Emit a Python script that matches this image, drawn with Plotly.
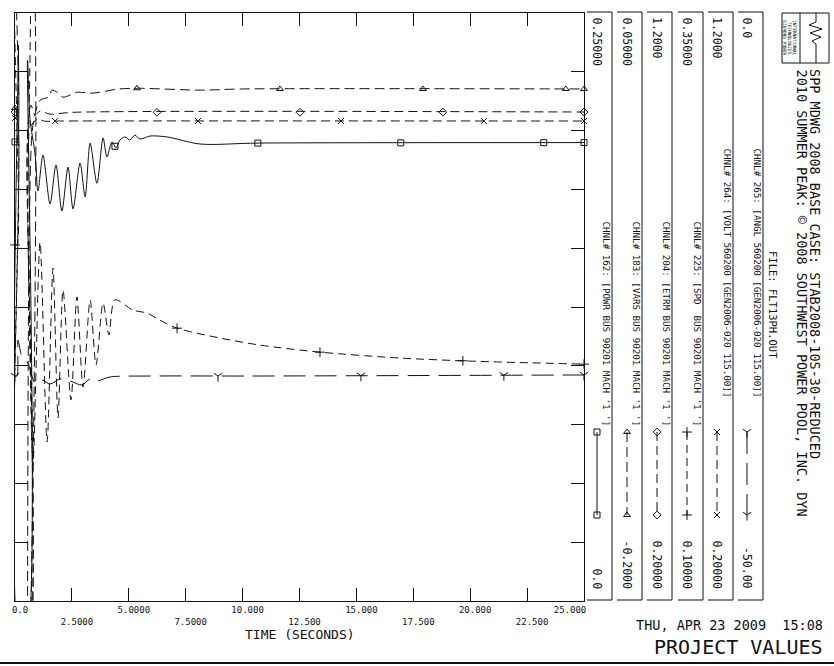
import numpy as np
import plotly.graph_objects as go

# ---------------- channel descriptions ----------------
chan_labels = [
    "CHNL# 162: [POWR BUS 90201 MACH '1 ']",
    "CHNL# 183: [VARS BUS 90201 MACH '1 ']",
    "CHNL# 204: [ETRM BUS 90201 MACH '1 ']",
    "CHNL# 225: [SPD  BUS 90201 MACH '1 ']",
    "CHNL# 264: [VOLT 560200 [GEN2006-020 115.00]]",
    "CHNL# 265: [ANGL 560200 [GEN2006-020 115.00]]",
]
scale_max_text = ["0.25000", "0.05000", "1.2000", "0.35000", "1.2000", "0.0"]
scale_min_text = ["0.0", "-0.2000", "0.20000", "0.10000", "0.20000", "-50.00"]
scale_max = [0.25, 0.05, 1.2, 0.35, 1.2, 0.0]
scale_min = [0.0, -0.2, 0.2, 0.1, 0.2, -50.0]

# ---------------- channel values (time s, value) ----------------
t_powr = [0.0, 0.09, 0.15, 0.22, 0.48, 0.55, 0.66, 0.88, 1.01, 1.23, 1.54, 1.80, 2.06, 2.33,
          2.55, 2.86, 3.08, 3.30, 3.60, 3.87, 4.04, 4.26, 4.44, 4.61, 4.83, 5.05, 5.27, 5.49,
          5.93, 6.68, 8.13, 10.72, 25.0]
v_powr = [0.1952, 0.1952, 0.2364, -0.0200, -0.0200, 0.2300, 0.2050, 0.1900, 0.1743, 0.1896,
          0.1688, 0.1854, 0.1658, 0.1845, 0.1667, 0.1862, 0.1718, 0.1947, 0.1776, 0.1969,
          0.1888, 0.1952, 0.1926, 0.1960, 0.1973, 0.1960, 0.1981, 0.1964, 0.1977, 0.1973,
          0.1943, 0.1947, 0.1949]

t_vars = [0.0, 0.09, 0.12, 0.48, 0.53, 0.62, 0.79, 1.10, 1.45, 1.63, 1.85, 2.11, 2.42, 2.72,
          3.30, 3.73, 4.48, 5.36, 8.13, 10.0, 25.0]
v_vars = [0.0096, 0.0096, 0.1200, 0.1200, -0.3000, -0.0500, 0.0023, 0.0129, 0.0142, 0.0172,
          0.0163, 0.0142, 0.0151, 0.0163, 0.0159, 0.0163, 0.0176, 0.0180, 0.0172, 0.0177, 0.0177]

t_etrm = [0.0, 0.09, 0.11, 0.49, 0.53, 0.57, 0.70, 0.88, 1.10, 1.54, 2.50, 25.0]
v_etrm = [1.0316, 1.0316, 0.0800, 0.0800, 0.9500, 1.0095, 1.0435, 1.0265, 1.0333, 1.0280,
          1.0310, 1.0316]

t_spd = [0.0, 0.09, 0.13, 0.44, 0.57, 0.79, 1.10, 1.41, 1.67, 1.89, 2.11, 2.46, 2.72, 2.99,
         3.30, 3.56, 3.87, 4.13, 4.39, 5.18, 5.80, 6.37, 7.12, 9.01, 10.76, 13.40, 16.92,
         19.99, 25.0]
v_spd = [0.2514, 0.2514, 0.4000, 0.4000, 0.2577, 0.1578, 0.2526, 0.1676, 0.2416, 0.1778,
         0.2322, 0.1855, 0.2293, 0.1910, 0.2280, 0.2003, 0.2267, 0.2131, 0.2280, 0.2237,
         0.2224, 0.2194, 0.2160, 0.2118, 0.2088, 0.2058, 0.2033, 0.2020, 0.2007]

t_volt = [0.0, 0.09, 0.11, 0.49, 0.53, 0.60, 0.79, 0.97, 1.30, 2.00, 25.0]
v_volt = [1.0214, 1.0214, 0.0500, 0.0500, 0.9500, 1.0010, 1.0129, 1.0200, 1.0160, 1.0163, 1.0163]

t_angl = [0.0, 0.09, 0.13, 0.31, 0.57, 0.88, 1.19, 1.54, 1.98, 2.42, 2.94, 3.30, 3.60, 4.17,
          5.93, 10.33, 25.0]
v_angl = [-30.87, -30.87, -27.81, -29.25, -29.76, -31.46, -31.21, -31.55, -31.12, -31.29,
          -31.63, -31.12, -31.29, -30.95, -30.87, -30.87, -30.78]

# times at which the plot program placed its channel symbols
mark_powr = [0.0, 4.39, 10.67, 16.95, 23.23, 25.0]
mark_vars = [0.0, 5.36, 11.64, 17.92, 24.20, 25.0]
mark_etrm = [0.0, 6.24, 12.52, 18.80, 25.0]
mark_spd = [0.0, 7.12, 13.40, 19.68, 25.0]
mark_volt = [0.0, 1.76, 8.04, 14.32, 20.60, 25.0]
mark_angl = [0.0, 8.92, 15.20, 21.48, 25.0]

time_ticks = [0, 2.5, 5, 7.5, 10, 12.5, 15, 17.5, 20, 22.5, 25]
time_tick_text = ["0.0", "2.5000", "5.0000", "7.5000", "10.000", "12.500", "15.000",
                  "17.500", "20.000", "22.500", "25.000"]

title_1 = "SPP MDWG 2008 BASE CASE: STAB2008-10S-30-REDUCED"
title_2 = "2010 SUMMER PEAK: \u00a9 2008 SOUTHWEST POWER POOL, INC. DYN"
file_text = "FILE: FLT13PH.OUT"
date_text = "THU, APR 23 2009  15:08"
footer_text = "PROJECT VALUES"
x_title = "TIME (SECONDS)"

# ---------------- styling / layout ----------------
W, H = 834, 666
PL, PR, PT, PB = 15, 584, 13, 601
FONT = "DejaVu Sans Mono"
BLACK = "#111111"


def nb(s):
    return s.replace(" ", "\u00a0")


series = [(t_powr, v_powr, mark_powr), (t_vars, v_vars, mark_vars), (t_etrm, v_etrm, mark_etrm),
          (t_spd, v_spd, mark_spd), (t_volt, v_volt, mark_volt), (t_angl, v_angl, mark_angl)]
styles = [
    dict(dash="solid", symbol="square-open", size=6),
    dict(dash="10px,5px", symbol="triangle-up-open", size=6),
    dict(dash="9px,5px", symbol="diamond-open", size=6),
    dict(dash="8px,5px", symbol="cross-thin-open", size=7),
    dict(dash="9px,5px", symbol="x-thin-open", size=6),
    dict(dash="22px,9px", symbol="y-down-open", size=7),
]

fig = go.Figure()
ynames = ["y", "y2", "y3", "y4", "y5", "y6"]
for i, ((t, v, mt), st) in enumerate(zip(series, styles)):
    fig.add_trace(go.Scatter(
        x=t, y=v, mode="lines", xaxis="x", yaxis=ynames[i],
        line=dict(color=BLACK, width=1, dash=st["dash"], shape="spline", smoothing=0.8),
        hoverinfo="skip", showlegend=False))
    fig.add_trace(go.Scatter(
        x=mt, y=np.interp(mt, t, v), mode="markers", xaxis="x", yaxis=ynames[i],
        marker=dict(symbol=st["symbol"], size=st["size"], color=BLACK,
                    line=dict(color=BLACK, width=1)),
        cliponaxis=False, hoverinfo="skip", showlegend=False))

# ---------------- right-hand channel panel (pixel axes x2/y7) ----------------
col_mark_x = [597, 627, 657, 687, 717, 747]
col_text_x = [606, 636, 666, 697, 727, 757]
col_line_x = [612, 642, 672, 703, 733, 763]
label_end_y = [427, 427, 427, 427, 398, 398]
LEG_TOP, LEG_BOT = 432, 515

shapes = []
annots = []


def pline(x0, y0, x1, y1, w=1):
    shapes.append(dict(type="line", xref="x2", yref="y7", x0=x0, y0=y0, x1=x1, y1=y1,
                       line=dict(color=BLACK, width=w)))


def ptext(x, y, text, size, angle=0, xa="center", ya="middle"):
    annots.append(dict(xref="x2", yref="y7", x=x, y=y, text=nb(text), showarrow=False,
                       textangle=angle, xanchor=xa, yanchor=ya, borderpad=0,
                       font=dict(family=FONT, size=size, color=BLACK)))


for k in range(6):
    lx = col_line_x[k]
    pline(lx - 25, 12, lx, 12)
    pline(lx, 12, lx, 600)
    pline(lx - 25, 600, lx, 600)
    ptext(col_mark_x[k], 16, scale_max_text[k], 11.5, 90, "center", "top")
    ptext(col_mark_x[k], 590, scale_min_text[k], 11.5, 90, "center", "bottom")
    ptext(col_text_x[k], label_end_y[k], chan_labels[k], 9.2, 90, "center", "bottom")
    st = styles[k]
    fig.add_trace(go.Scatter(
        x=[col_mark_x[k], col_mark_x[k]], y=[LEG_TOP, LEG_BOT], mode="lines+markers",
        xaxis="x2", yaxis="y7",
        line=dict(color=BLACK, width=1, dash=st["dash"]),
        marker=dict(symbol=st["symbol"], size=st["size"], color=BLACK,
                    line=dict(color=BLACK, width=1)),
        cliponaxis=False, hoverinfo="skip", showlegend=False))

# header texts
ptext(773, 305, file_text, 10.5, 90)
ptext(815, 68, title_1, 13.5, 90, "center", "top")
ptext(802, 68, title_2, 13.5, 90, "center", "top")
ptext(824, 625, date_text, 13.5, 0, "right", "middle")
ptext(824, 647, footer_text, 20, 0, "right", "middle")
ptext((PL + PR) / 2, 634, x_title, 13, 0, "center", "middle")

# logo
shapes.append(dict(type="rect", xref="x2", yref="y7", x0=782, y0=13, x1=829, y1=63,
                   line=dict(color=BLACK, width=1)))
pline(800, 13, 800, 63)
shapes.append(dict(type="path", xref="x2", yref="y7",
                   path="M 816 13 L 816 22 L 809 25 L 822 29 L 810 33 L 821 37 L 812 41 L 816 44 L 816 63",
                   line=dict(color=BLACK, width=1)))
ptext(785, 38, "SIEMENS POWER", 4.5, 90)
ptext(790, 38, "TECHNOLOGIES", 4.5, 90)
ptext(795, 38, "INTERNATIONAL", 4.5, 90)

# bottom frame line
pline(0, 663, W, 663, 2)

# ---------------- axes ----------------
tick_text = [("<br>" + s) if i % 2 else s for i, s in enumerate(time_tick_text)]
tick_text[-1] = tick_text[-1] + "\u00a0" * 7

axis_common = dict(showgrid=False, zeroline=False, fixedrange=True, automargin=False)
layout_axes = dict(
    xaxis=dict(domain=[PL / W, PR / W], range=[0, 25], anchor="y", showline=True,
               linecolor=BLACK, linewidth=1, mirror="ticks", ticks="inside", ticklen=13,
               tickcolor=BLACK, tickwidth=1, tickvals=time_ticks, ticktext=tick_text,
               ticklabelshift=5,
               tickfont=dict(family=FONT, size=9, color=BLACK), **axis_common),
    yaxis=dict(domain=[(H - PB) / H, (H - PT) / H], range=[scale_min[0], scale_max[0]],
               anchor="x", showline=True, linecolor=BLACK, linewidth=1, mirror="ticks",
               ticks="inside", ticklen=13, tickcolor=BLACK, tickwidth=1,
               tick0=0, dtick=(scale_max[0] - scale_min[0]) / 10, showticklabels=False,
               **axis_common),
    xaxis2=dict(domain=[0, 1], range=[0, W], anchor="y7", visible=False, **axis_common),
    yaxis7=dict(domain=[0, 1], range=[H, 0], anchor="x2", visible=False, **axis_common),
)
for i in range(1, 6):
    layout_axes["yaxis%d" % (i + 1)] = dict(overlaying="y", anchor="x",
                                            range=[scale_min[i], scale_max[i]],
                                            visible=False, **axis_common)

fig.update_layout(
    width=W, height=H, autosize=False,
    margin=dict(l=0, r=0, t=0, b=0, pad=0, autoexpand=False),
    paper_bgcolor="white", plot_bgcolor="rgba(0,0,0,0)",
    shapes=shapes, annotations=annots, showlegend=False, hovermode=False,
    font=dict(family=FONT, color=BLACK),
    **layout_axes)

fig.write_html(
    "out.html",
    config={"displayModeBar": False, "responsive": False},
    post_script="document.body.style.margin='0';document.body.style.overflow='hidden';",
)
